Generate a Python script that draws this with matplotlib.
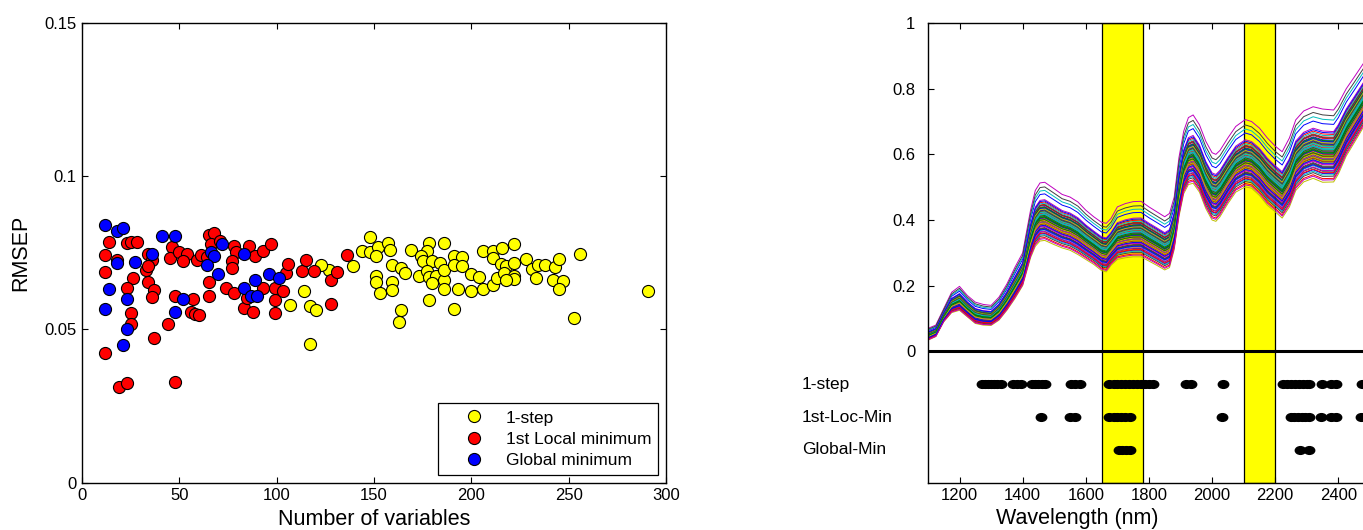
import numpy as np
import matplotlib
matplotlib.use("Agg")
import matplotlib.pyplot as plt
from matplotlib.path import Path

# ---- left panel: RMSEP against number of selected variables ----
step1_n = [127, 139, 148, 144, 148, 152, 157, 158, 151, 159, 164, 166, 151, 151, 153,
           159, 159, 164, 163, 169, 178, 177, 174, 175, 180, 184, 186, 173, 177, 178,
           182, 180, 186, 186, 186, 191, 195, 191, 195, 193, 178, 191, 200, 204, 200,
           206, 211, 213, 206, 211, 211, 216, 222, 215, 218, 222, 217, 222, 222, 218,
           228, 231, 234, 238, 233, 243, 245, 242, 247, 245, 256, 253, 291, 123, 114,
           107, 117, 120, 117]
step1_rmsep = [0.0695, 0.0708, 0.0801, 0.0757, 0.0752, 0.0768, 0.0782, 0.0758, 0.0739, 0.0712,
               0.0701, 0.0685, 0.0675, 0.0656, 0.0619, 0.0656, 0.0630, 0.0563, 0.0523, 0.0760,
               0.0782, 0.0755, 0.0739, 0.0725, 0.0722, 0.0717, 0.0782, 0.0675, 0.0692, 0.0671,
               0.0676, 0.0651, 0.0660, 0.0632, 0.0695, 0.0739, 0.0735, 0.0711, 0.0706, 0.0632,
               0.0595, 0.0568, 0.0681, 0.0672, 0.0626, 0.0633, 0.0646, 0.0668, 0.0757, 0.0757,
               0.0733, 0.0766, 0.0779, 0.0714, 0.0706, 0.0717, 0.0684, 0.0673, 0.0665, 0.0662,
               0.0730, 0.0698, 0.0712, 0.0711, 0.0668, 0.0703, 0.0730, 0.0660, 0.0657, 0.0632,
               0.0747, 0.0537, 0.0624, 0.0711, 0.0624, 0.0581, 0.0575, 0.0562, 0.0453]

locmin_n = [14, 23, 25, 28, 12, 18, 12, 34, 36, 33, 34, 26, 34, 37, 36, 23, 25, 25,
            12, 37, 44, 19, 23, 48, 46, 45, 50, 54, 52, 48, 57, 56, 58, 60, 59, 61,
            64, 65, 68, 66, 71, 65, 65, 78, 79, 77, 77, 86, 89, 93, 97, 74, 78, 93,
            83, 88, 99, 99, 99, 103, 105, 106, 113, 115, 119, 128, 131, 128, 136, 85]
locmin_rmsep = [0.0787, 0.0782, 0.0787, 0.0787, 0.0743, 0.0728, 0.0686, 0.0747, 0.0728, 0.0693,
                0.0706, 0.0667, 0.0654, 0.0630, 0.0606, 0.0635, 0.0554, 0.0519, 0.0423, 0.0471,
                0.0519, 0.0312, 0.0326, 0.0330, 0.0769, 0.0733, 0.0753, 0.0746, 0.0725, 0.0608,
                0.0599, 0.0558, 0.0550, 0.0548, 0.0728, 0.0744, 0.0737, 0.0809, 0.0815, 0.0779,
                0.0788, 0.0656, 0.0610, 0.0771, 0.0753, 0.0725, 0.0701, 0.0771, 0.0739, 0.0757,
                0.0779, 0.0634, 0.0619, 0.0634, 0.0570, 0.0558, 0.0595, 0.0554, 0.0634, 0.0624,
                0.0684, 0.0714, 0.0691, 0.0728, 0.0691, 0.0662, 0.0686, 0.0584, 0.0744, 0.0603]

global_n = [12, 18, 21, 41, 48, 72, 36, 18, 27, 66, 68, 64, 70, 83, 96, 101, 89, 83,
            87, 90, 14, 23, 52, 12, 48, 23, 21]
global_rmsep = [0.0840, 0.0820, 0.0831, 0.0804, 0.0804, 0.0779, 0.0747, 0.0717, 0.0721,
                0.0754, 0.0739, 0.0711, 0.0682, 0.0747, 0.0682, 0.0667, 0.0662, 0.0634,
                0.0610, 0.0610, 0.0632, 0.0601, 0.0598, 0.0567, 0.0558, 0.0500, 0.0448]

# ---- right panel: NIR spectra ----
wavelength = [1100, 1125, 1150, 1175, 1200, 1225, 1250, 1275, 1300, 1325, 1350, 1375, 1400,
              1425, 1440, 1455, 1470, 1500, 1525, 1550, 1575, 1600, 1625, 1650, 1665, 1680,
              1700, 1725, 1750, 1775, 1800, 1825, 1850, 1865, 1880, 1895, 1910, 1925, 1940,
              1960, 1980, 2000, 2012, 2025, 2050, 2075, 2105, 2125, 2150, 2175, 2200, 2222,
              2245, 2265, 2290, 2320, 2350, 2385, 2400, 2425, 2450, 2480, 2500]
spec_top = [0.070, 0.080, 0.130, 0.180, 0.198, 0.170, 0.150, 0.143, 0.140, 0.165, 0.205, 0.255,
            0.300, 0.430, 0.490, 0.513, 0.515, 0.495, 0.478, 0.470, 0.455, 0.430, 0.410, 0.393,
            0.390, 0.405, 0.440, 0.450, 0.456, 0.457, 0.440, 0.425, 0.410, 0.420, 0.470, 0.590,
            0.670, 0.712, 0.720, 0.690, 0.640, 0.605, 0.600, 0.612, 0.650, 0.685, 0.706, 0.700,
            0.680, 0.650, 0.625, 0.608, 0.650, 0.705, 0.732, 0.745, 0.738, 0.735, 0.755, 0.800,
            0.835, 0.878, 0.900]
spec_bottom = [0.034, 0.045, 0.090, 0.118, 0.125, 0.105, 0.085, 0.080, 0.079, 0.095, 0.125,
               0.160, 0.200, 0.285, 0.320, 0.336, 0.338, 0.325, 0.315, 0.308, 0.295, 0.280,
               0.265, 0.246, 0.242, 0.262, 0.280, 0.285, 0.288, 0.288, 0.275, 0.262, 0.248,
               0.255, 0.310, 0.410, 0.480, 0.508, 0.512, 0.485, 0.435, 0.400, 0.396, 0.410,
               0.450, 0.485, 0.501, 0.497, 0.475, 0.445, 0.425, 0.406, 0.440, 0.490, 0.516,
               0.527, 0.515, 0.516, 0.540, 0.595, 0.635, 0.684, 0.705]
# where each sample sits between the lowest and highest spectrum
sample_level = [0.80, 0.45, 0.38, 0.86, 1.00, 0.00, 0.92, 0.55, 0.30, 0.62, 0.50, 0.42, 0.35,
                0.20, 0.58, 0.28, 0.66, 0.48, 0.25, 0.40, 0.15, 0.52, 0.33, 0.60, 0.10, 0.44,
                0.37, 0.22, 0.56, 0.31, 0.47, 0.18, 0.70, 0.27, 0.53, 0.12, 0.41, 0.35, 0.64,
                0.24, 0.50, 0.08, 0.39, 0.57, 0.29, 0.46, 0.16, 0.34, 0.61, 0.26, 0.43, 0.05,
                0.49, 0.32, 0.54, 0.21, 0.68, 0.36, 0.13, 0.45, 0.03, 0.30, 0.51, 0.19, 0.40]

# selected wavelengths for each method
sel_1step = [1270, 1280, 1290, 1300, 1310, 1320, 1333, 1370, 1383, 1396, 1429, 1440, 1450,
             1460, 1470, 1553, 1567, 1581, 1675, 1688, 1700, 1712, 1725, 1738, 1750, 1762,
             1775, 1788, 1800, 1812, 1918, 1933, 2034, 2225, 2237, 2250, 2262, 2275, 2287,
             2300, 2307, 2349, 2378, 2392, 2475]
sel_locmin = [1458, 1551, 1565, 1675, 1688, 1700, 1712, 1725, 1740, 2032, 2249, 2260, 2272,
              2284, 2295, 2307, 2346, 2376, 2392, 2472]
sel_global = [1704, 1716, 1728, 1740, 2277, 2306]
row_names = ["1-step", "1st-Loc-Min", "Global-Min"]
row_y = [-0.1, -0.2, -0.3]

bands = [(1650, 1780), (2100, 2200)]

matlab_colors = [(0, 0, 1), (0, 0.5, 0), (1, 0, 0), (0, 0.75, 0.75),
                 (0.75, 0, 0.75), (0.75, 0.75, 0), (0.25, 0.25, 0.25)]


def main():
    plt.rcParams['font.family'] = ['Liberation Sans', 'DejaVu Sans']
    fig = plt.figure(figsize=(13.63, 5.30), dpi=100)

    ##############
    ax1 = fig.add_axes([0.0602, 0.0892, 0.4284, 0.8674])
    mk = dict(marker='o', ms=8.7, mec='black', mew=0.8, ls='none')
    ax1.plot(step1_n, step1_rmsep, mfc=(1, 1, 0), label='1-step', **mk)
    ax1.plot(locmin_n, locmin_rmsep, mfc=(1, 0, 0), label='1st Local minimum', **mk)
    ax1.plot(global_n, global_rmsep, mfc=(0, 0, 1), label='Global minimum', **mk)
    ax1.set_xlim(0, 300)
    ax1.set_ylim(0, 0.15)
    ax1.set_xticks([0, 50, 100, 150, 200, 250, 300])
    ax1.set_yticks([0, 0.05, 0.1, 0.15])
    ax1.set_yticklabels(['0', '0.05', '0.1', '0.15'])
    ax1.tick_params(direction='in', length=4, width=0.8, top=True, right=True,
                    labelsize=12, pad=4)
    ax1.set_xlabel('Number of variables', fontsize=15.5, labelpad=4)
    ax1.set_ylabel('RMSEP', fontsize=15.5, labelpad=9)
    leg = ax1.legend(loc='lower right', fontsize=12.5, frameon=True, fancybox=False,
                     edgecolor='black', framealpha=1, handlelength=3.4, handletextpad=0.1,
                     labelspacing=0.35, borderaxespad=0.45, borderpad=0.4)
    leg.get_frame().set_linewidth(0.9)

    ##############
    ax2 = fig.add_axes([0.6808, 0.0892, 0.3243, 0.8674])
    for lo, hi in bands:
        ax2.axvspan(lo, hi, facecolor=(1, 1, 0), edgecolor='black', lw=0.9, zorder=1)
    wl = np.array(wavelength)
    top = np.array(spec_top)
    bot = np.array(spec_bottom)
    for i, lev in enumerate(sample_level):
        ax2.plot(wl, bot + lev * (top - bot), color=matlab_colors[i % 7], lw=0.7, zorder=2)
    ax2.plot([1100, 2500], [0, 0], color='black', lw=2.2, zorder=3)

    # slightly flattened dot, as in the original
    circ = Path.unit_circle()
    flat_dot = Path(circ.vertices * [1.35, 1.0], circ.codes)
    for sel, yy, name in zip([sel_1step, sel_locmin, sel_global], row_y, row_names):
        ax2.plot(sel, [yy] * len(sel), ls='none', marker=flat_dot, color='black',
                 ms=7.5, zorder=4)
        ax2.text(700, yy, name, fontsize=12.5, va='center', ha='left', clip_on=False)
    ax2.set_xlim(1100, 2500)
    ax2.set_ylim(-0.4, 1)
    ax2.set_xticks([1200, 1400, 1600, 1800, 2000, 2200, 2400])
    ax2.set_yticks([0, 0.2, 0.4, 0.6, 0.8, 1])
    ax2.set_yticklabels(['0', '0.2', '0.4', '0.6', '0.8', '1'])
    ax2.tick_params(direction='in', length=4, width=0.8, top=True, right=True,
                    labelsize=12, pad=4)
    ax2.tick_params(axis='y', pad=9)
    ax2.set_xlabel('Wavelength (nm)', fontsize=15.5, labelpad=4)
    ax2.xaxis.set_label_coords(0.337, -0.055)
    ##############

    for ax in (ax1, ax2):
        for s in ax.spines.values():
            s.set_linewidth(1.0)

    fig.savefig('out.png', dpi=100)


if __name__ == '__main__':
    main()
